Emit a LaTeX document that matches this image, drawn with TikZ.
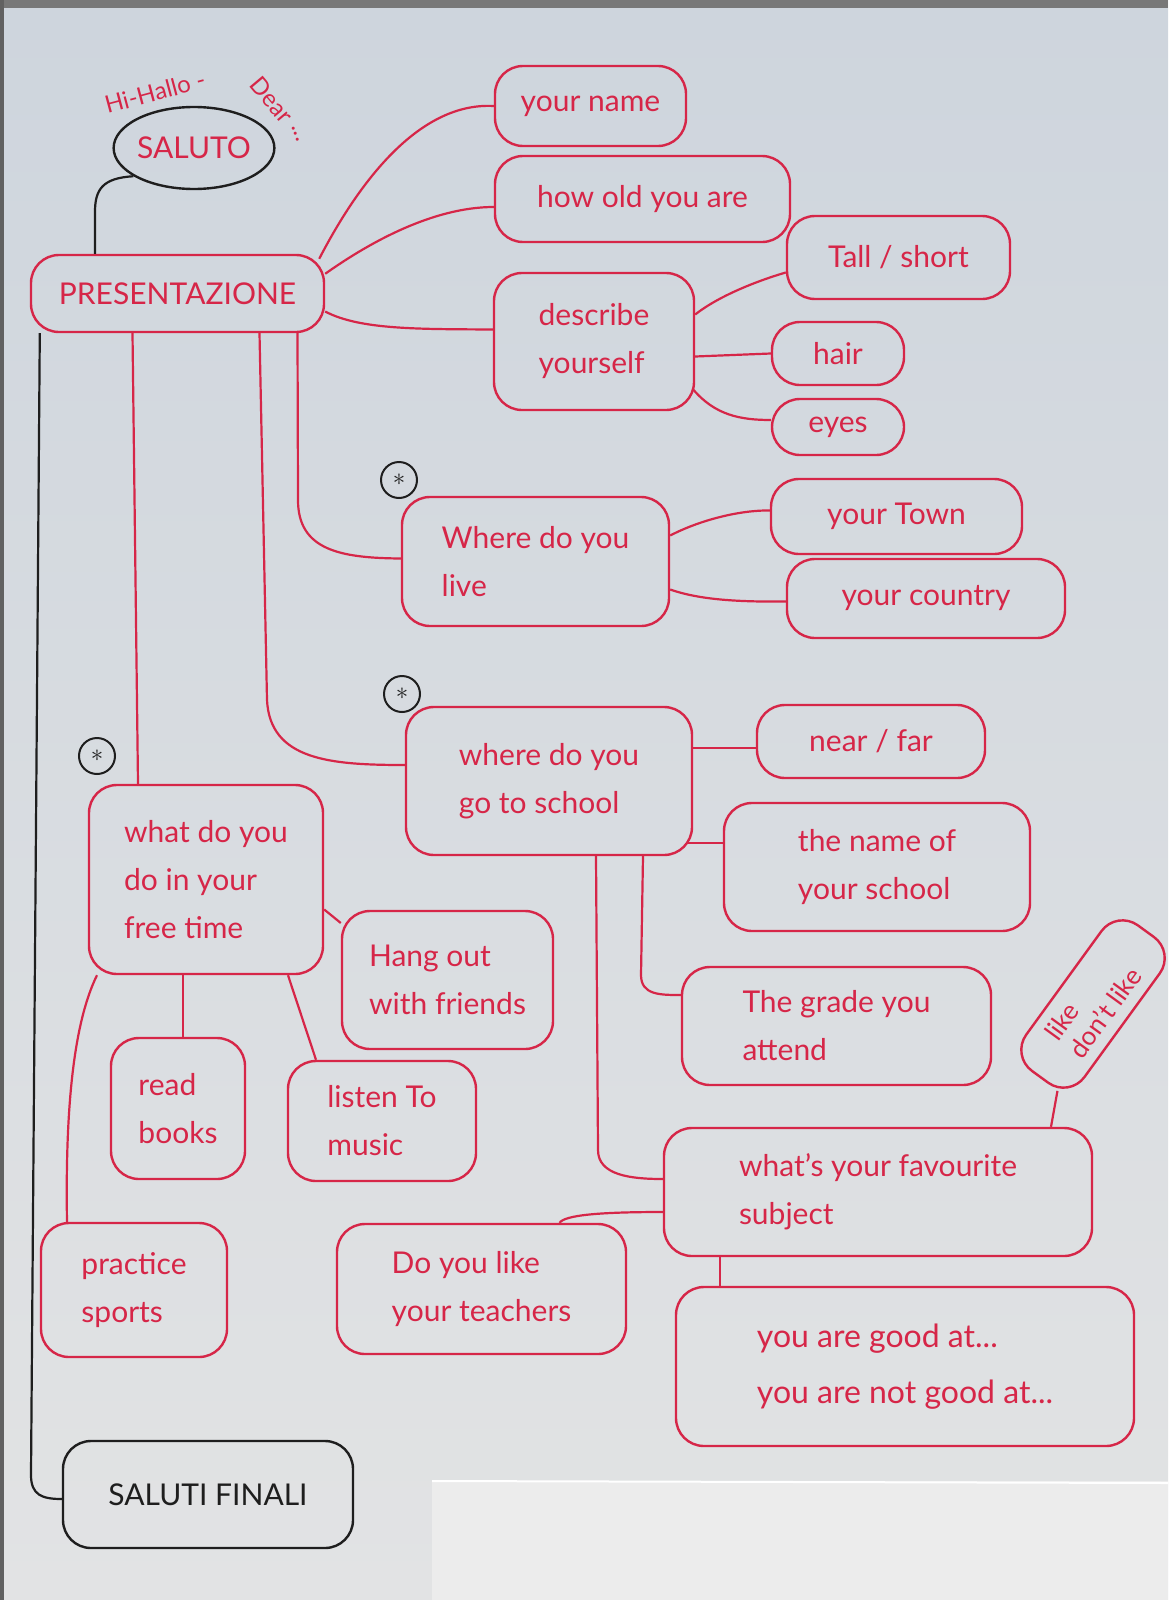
\documentclass[tikz,border=0pt]{standalone}
\usepackage{fontspec}
\setmainfont{Lato}
\usetikzlibrary{shapes.geometric,calc}
\definecolor{ink}{RGB}{214,38,72}
\definecolor{pen}{RGB}{30,30,30}
\definecolor{papertop}{RGB}{206,213,221}
\definecolor{paperbot}{RGB}{226,227,228}
\definecolor{sheet}{RGB}{236,236,236}
\begin{document}
\begin{tikzpicture}[x=1pt,y=-1pt,
 box/.style={draw=ink,line width=2.4pt,rounded corners=28pt,text=ink,align=left,inner sep=0pt,font=\fontsize{30}{48}\selectfont},
 bbox/.style={box,draw=pen,text=pen},
 link/.style={draw=ink,line width=2.2pt},
 blink/.style={draw=pen,line width=2.2pt},
 starc/.style={circle,draw=pen,line width=2pt,minimum size=36pt,inner sep=0pt,text=pen,font=\fontsize{30}{30}\selectfont},
 greet/.style={text=ink,inner sep=0pt,font=\fontsize{24}{24}\selectfont}]
\useasboundingbox (0,0) rectangle (1168,1600);
\shade[top color=papertop,bottom color=paperbot] (0,0) rectangle (1168,1600);
\fill[pen!60] (0,0) rectangle (1168,8);
\fill[pen!70] (0,0) rectangle (4,1600);
\fill[sheet] (432,1481) rectangle (1168,1600);
\draw[white,line width=2pt] (432,1481) -- (1168,1483);

% greeting
\node[greet,rotate=15] (hi1) at (155,92) {Hi-Hallo -};
\node[greet,rotate=-50] (hi2) at (272,100) {Dear};
\node[greet,rotate=-70] (hi3) at (296,134) {...};

% nodes
\node[ellipse,draw=pen,line width=2.4pt,minimum width=153pt,minimum height=82pt,inner sep=0pt,text=ink,font=\fontsize{30}{36}\selectfont] (saluto) at (194,148) {SALUTO};
\node[box,minimum width=293pt,minimum height=77pt] (pres) at (177.5,293.5) {PRESENTAZIONE};
\node[box,minimum width=191pt,minimum height=80pt] (name) at (590.5,106) {your name};
\node[box,minimum width=295pt,minimum height=86pt] (old) at (642.5,199) {how old you are};
\node[box,minimum width=200pt,minimum height=137pt] (desc) at (594,341.5) {describe\\yourself};
\node[box,minimum width=223pt,minimum height=83pt] (tall) at (898.5,257.5) {Tall / short};
\node[box,minimum width=132pt,minimum height=63pt] (hair) at (838,353.5) {hair};
\node[box,minimum width=132pt,minimum height=56pt] (eyes) at (838,427) {eyes};
\node[starc] (star1) at (399,480) {$\ast$};
\node[box,minimum width=267pt,minimum height=129pt] (live) at (535.5,561.5) {Where do you\\ live};
\node[box,minimum width=251pt,minimum height=75pt] (town) at (896.5,516.5) {your Town};
\node[box,minimum width=278pt,minimum height=79pt] (country) at (926,598.5) {your country};
\node[starc] (star2) at (402,694) {$\ast$};
\node[box,minimum width=286pt,minimum height=148pt] (school) at (549,781) {where do you\\go to school};
\node[box,minimum width=228pt,minimum height=73pt] (near) at (871,741.5) {near / far};
\node[box,minimum width=306pt,minimum height=128pt] (sname) at (877,867) {the name of\\your school};
\node[box,minimum width=309pt,minimum height=118pt] (grade) at (836.5,1026) {The grade you\\attend};
\node[box,rounded corners=26pt,minimum width=180pt,minimum height=72pt,rotate=54,font=\fontsize{26}{30}\selectfont] (like) at (1093,1004) {like\\don't like};
\node[box,minimum width=428pt,minimum height=128pt] (fav) at (878,1192) {what's your favourite\\subject};
\node[box,minimum width=458pt,minimum height=159pt,font=\fontsize{32}{56}\selectfont] (good) at (905,1366.5) {you are good at...\\you are not good at...};
\node[box,minimum width=289pt,minimum height=130pt] (teach) at (481.5,1289) {Do you like\\your teachers};
\node[starc] (star3) at (97,756) {$\ast$};
\node[box,minimum width=234pt,minimum height=189pt] (free) at (206,879.5) {what do you\\do in your\\free time};
\node[box,minimum width=211pt,minimum height=138pt] (hang) at (447.5,980) {Hang out\\with friends};
\node[box,minimum width=134pt,minimum height=141pt] (read) at (178,1108.5) {read\\books};
\node[box,minimum width=188pt,minimum height=120pt] (listen) at (382,1121) {listen To\\music};
\node[box,minimum width=186pt,minimum height=134pt] (sports) at (134,1290) {practice\\sports};
\node[bbox,minimum width=290pt,minimum height=107pt] (finali) at (208,1494.5) {SALUTI FINALI};

% connectors
\draw[blink] (saluto.205) .. controls (102,178) and (95,190) .. (95,212) -- ([xshift=-82.5pt]pres.north);
\draw[link] ([xshift=-6pt,yshift=-5pt]pres.north east) .. controls (360,180) and (420,102) .. (name.west);
\draw[link] ([yshift=-20pt]pres.north east) .. controls (380,235) and (440,207) .. ([yshift=-8pt]old.west);
\draw[link] ([yshift=-18pt]pres.east) .. controls (360,330) and (420,329) .. ([yshift=12pt]desc.west);
\draw[link] ([yshift=27pt]desc.east) .. controls (720,295) and (760,280) .. ([yshift=-15pt]tall.west);
\draw[link] ([yshift=-15pt]desc.east) -- (hair.west);
\draw[link] ([xshift=-2pt,yshift=-48pt]desc.east) .. controls (715,415) and (740,420) .. ([yshift=7pt]eyes.west);
\draw[link] ([xshift=120pt]pres.south) -- (298,500) .. controls (298,550) and (340,558) .. ([yshift=3pt]live.west);
\draw[link] ([xshift=82pt]pres.south) -- (267,700) .. controls (270,760) and (330,765) .. ([yshift=16pt]school.west);
\draw[link] ([xshift=-45pt]pres.south) -- ([xshift=-68pt]free.north);
\draw[blink] ([xshift=10pt]pres.south west) -- (31,1475) .. controls (31,1495) and (42,1499) .. ([yshift=-4.5pt]finali.west);
\draw[link] ([yshift=26pt]live.east) .. controls (700,520) and (740,510) .. ([yshift=6pt]town.west);
\draw[link] ([yshift=-28pt]live.east) .. controls (700,600) and (740,602) .. ([yshift=-3pt]country.west);
\draw[link] ([yshift=33pt]school.east) -- ([yshift=-6.5pt]near.west);
\draw[link] ([xshift=-6pt,yshift=-62pt]school.east) -- ([yshift=24pt]sname.west);
\draw[link] ([xshift=94pt]school.south) -- (641,975) .. controls (641,995) and (660,995) .. ([yshift=31pt]grade.west);
\draw[link] ([xshift=47pt]school.south) -- (598,1150) .. controls (598,1175) and (630,1179) .. ([yshift=13pt]fav.west);
\draw[link] ([xshift=173pt]fav.north) -- ($(like.south west)!0.2!(like.north west)$);
\draw[link] ([yshift=-20pt]fav.west) .. controls (600,1212) and (565,1215) .. ([xshift=78pt]teach.north);
\draw[link] ([xshift=-158pt]fav.south) -- ([xshift=-185pt]good.north);
\draw[link] ([yshift=-30pt]free.east) -- ([yshift=57pt]hang.west);
\draw[link] ([xshift=-23pt]free.south) -- ([xshift=5pt]read.north);
\draw[link] ([xshift=82pt]free.south) -- ([xshift=-66pt]listen.north);
\draw[link] ([xshift=-109pt]free.south) .. controls (75,1020) and (65,1100) .. ([xshift=-67pt]sports.north);
\end{tikzpicture}
\end{document}
